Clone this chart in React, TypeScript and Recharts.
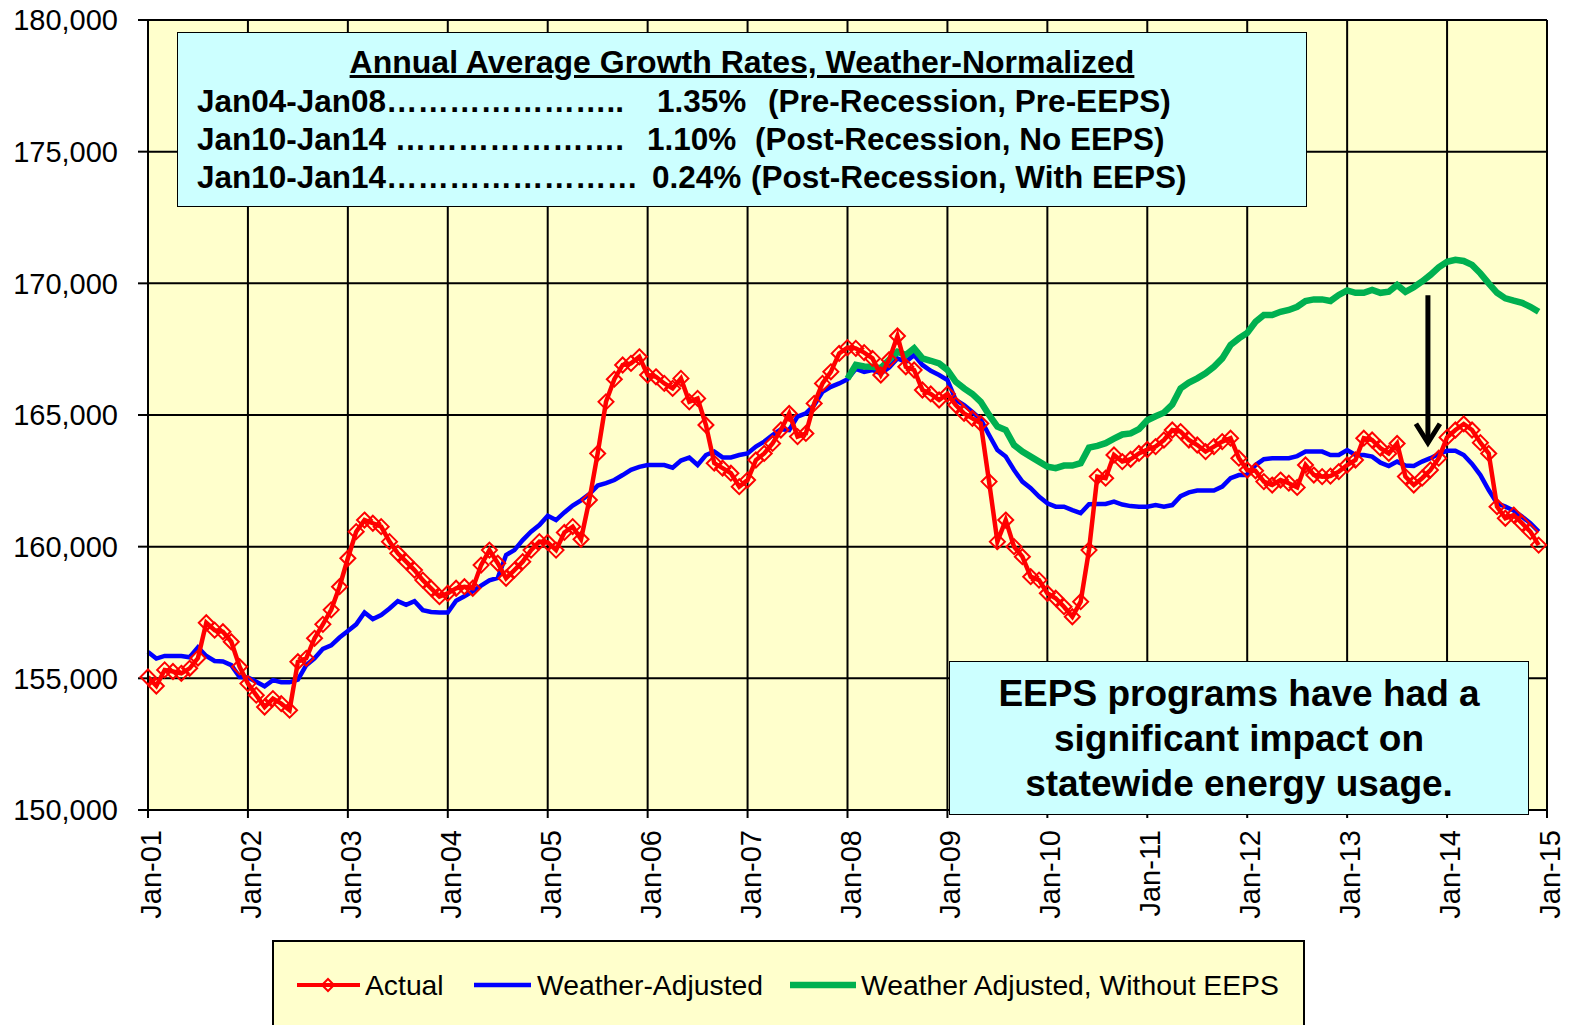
import React from 'react';
import { LineChart, Line, XAxis, YAxis, CartesianGrid, ReferenceLine } from 'recharts';

// monthly kWh (thousands) Jan-01 .. Dec-14
const X_TICK_LABELS = [
  'Jan-01', 'Jan-02', 'Jan-03', 'Jan-04', 'Jan-05', 'Jan-06', 'Jan-07', 'Jan-08',
  'Jan-09', 'Jan-10', 'Jan-11', 'Jan-12', 'Jan-13', 'Jan-14', 'Jan-15',
];
const Y_TICKS = [150000, 155000, 160000, 165000, 170000, 175000, 180000];

const ACTUAL = [
  155050, 154710, 155320, 155260, 155190, 155380, 155770, 157110, 156830, 156770, 156390, 155440,
  154800, 154360, 153910, 154230, 154040, 153790, 155630, 155760, 156520, 157050, 157600, 158480,
  159560, 160570, 161010, 160890, 160760, 160190, 159750, 159430, 159110, 158730, 158420, 158100,
  158230, 158420, 158480, 158420, 159300, 159870, 159370, 158800, 159110, 159430, 159870, 160190,
  160160, 159870, 160540, 160760, 160280, 161770, 163540, 165500, 166360, 166900, 166960, 167210,
  166520, 166450, 166200, 166010, 166390, 165500, 165630, 164620, 163170, 162980, 162790, 162280,
  162530, 163290, 163540, 163920, 164430, 165060, 164180, 164300, 165440, 166200, 166640, 167340,
  167560, 167530, 167370, 167150, 166520, 167100, 168000, 166830, 166710, 165950, 165800, 165570,
  165800, 165380, 165060, 164870, 164680, 162470, 160190, 161010, 160000, 159620, 158860, 158730,
  158230, 158040, 157720, 157340, 157910, 159870, 162660, 162600, 163480, 163230, 163320, 163540,
  163690, 163800, 164050, 164430, 164370, 164050, 163860, 163610, 163800, 163990, 164120, 163360,
  162910, 162880, 162470, 162340, 162530, 162410, 162250, 163100, 162720, 162660, 162680, 162850,
  163100, 163290, 164120, 164050, 163740, 163540, 163920, 162660, 162340, 162600, 162910, 163360,
  164150, 164430, 164660, 164430, 163950, 163540, 161520, 161080, 161200, 160890, 160570, 160060,
];

const WEATHER_ADJUSTED = [
  156000, 155750, 155850, 155850, 155850, 155800, 156180, 155850, 155660, 155640, 155500, 155050,
  155030, 154870, 154700, 154930, 154850, 154850, 154950, 155500, 155760, 156120, 156250, 156550,
  156800, 157050, 157500, 157250, 157400, 157650, 157930, 157790, 157930, 157590, 157520, 157500,
  157500, 157950, 158120, 158300, 158520, 158720, 158810, 159680, 159870, 160250, 160570, 160820,
  161170, 161010, 161300, 161560, 161760, 162000, 162320, 162410, 162530, 162720, 162920, 163030,
  163100, 163100, 163100, 163000, 163270, 163380, 163100, 163480, 163610, 163390, 163390, 163480,
  163540, 163800, 163990, 164240, 164460, 164430, 164940, 165060, 165380, 165880, 166070, 166200,
  166360, 166750, 166640, 166710, 166580, 166800, 167150, 167020, 167280, 166900, 166680, 166520,
  166330, 165570, 165380, 165120, 164830, 164240, 163670, 163420, 162910, 162470, 162220, 161900,
  161650, 161520, 161520, 161390, 161270, 161610, 161620, 161620, 161710, 161600, 161540, 161520,
  161520, 161580, 161520, 161580, 161920, 162060, 162130, 162130, 162130, 162280, 162600, 162720,
  162720, 163100, 163320, 163360, 163360, 163360, 163440, 163610, 163610, 163610, 163480, 163480,
  163670, 163480, 163480, 163420, 163190, 163060, 163230, 163080, 163060, 163230, 163360, 163520,
  163640, 163640, 163480, 163140, 162720, 162150, 161650, 161520, 161370, 161140, 160890, 160570,
];

// starts Jan-08
const NO_EEPS_START = 84;
const WITHOUT_EEPS = [
  166380, 166900, 166840, 166830, 166780, 167100, 167400, 167280, 167530, 167150, 167060, 166960,
  166710, 166260, 166010, 165800, 165500, 165000, 164560, 164430, 163860, 163610, 163420, 163230,
  163040, 162980, 163080, 163080, 163170, 163760, 163830, 163930, 164100, 164260, 164300, 164460,
  164800, 164950, 165090, 165400, 166010, 166230, 166390, 166580, 166830, 167150, 167660, 167910,
  168120, 168540, 168800, 168800, 168920, 168990, 169110, 169330, 169390, 169390, 169330, 169560,
  169730, 169640, 169640, 169750, 169640, 169680, 169940, 169680, 169850, 170070, 170320, 170610,
  170820, 170890, 170850, 170700, 170380, 170000, 169640, 169430, 169340, 169260, 169110, 168920,
];

const GROWTH_PERIODS = [
  'Jan04-Jan08' + '…'.repeat(7) + '..',
  'Jan10-Jan14 ' + '…'.repeat(7) + '.',
  'Jan10-Jan14' + '…'.repeat(8),
];
const GROWTH_RATES = ['1.35%', '1.10%', '0.24%'];
const GROWTH_NOTES = ['(Pre-Recession, Pre-EEPS)', '(Post-Recession, No EEPS)', '(Post-Recession, With EEPS)'];

// arrow annotation (month index, from, to)
const ARROW_MONTH = 153.7;
const ARROW_FROM = 169550;
const ARROW_TO = 163870;

const FONT = '"Liberation Sans", Arial, sans-serif';
const X_TICKS = X_TICK_LABELS.map((_, i) => i * 12);

const data = ACTUAL.map((v, i) => ({
  month: i,
  actual: v,
  adjusted: WEATHER_ADJUSTED[i],
  noEeps: i >= NO_EEPS_START ? WITHOUT_EEPS[i - NO_EEPS_START] : null,
}));

function Diamond(props: any) {
  const { cx, cy, index } = props;
  if (cx == null || cy == null) return <g key={index} />;
  const r = 7.5;
  return (
    <polygon
      key={index}
      points={`${cx},${cy - r} ${cx + r},${cy} ${cx},${cy + r} ${cx - r},${cy}`}
      fill="none"
      stroke="#FF0000"
      strokeWidth={2}
    />
  );
}

function XTick({ x, y, payload }: any) {
  return (
    <text
      x={x}
      y={y}
      dy="0.45em"
      transform={`rotate(-90, ${x}, ${y})`}
      textAnchor="end"
      fontSize={29}
      fill="#000"
      fontFamily={FONT}
    >
      {X_TICK_LABELS[Math.round(payload.value / 12)]}
    </text>
  );
}

function Arrow(props: any) {
  const { x1, y1, x2, y2 } = props;
  return (
    <g>
      <line x1={x1} y1={y1} x2={x2} y2={y2 - 2} stroke="#000" strokeWidth={5} />
      <polyline
        points={`${x2 - 12},${y2 - 21} ${x2},${y2 - 2} ${x2 + 12},${y2 - 21}`}
        fill="none"
        stroke="#000"
        strokeWidth={5}
      />
    </g>
  );
}

const abs = (left: number, top: number, extra: React.CSSProperties = {}): React.CSSProperties => ({
  position: 'absolute',
  left,
  top,
  whiteSpace: 'nowrap',
  ...extra,
});

export default function App() {
  const pctX = [657, 647, 652];
  const noteX = [768, 755, 751];
  const rowY = [101, 139, 177];
  const rowFont = { fontSize: 31.5, lineHeight: '36px', fontWeight: 700 };

  return (
    <div style={{ position: 'absolute', left: 0, top: 0, width: 1570, height: 1025, overflow: 'hidden', fontFamily: FONT, background: '#fff' }}>
      <LineChart width={1570} height={1025} data={data} margin={{ top: 20, right: 23, left: 0, bottom: 0 }}>
        <CartesianGrid stroke="#000" strokeWidth={2} fill="#FFFFCC" fillOpacity={1} />
        <XAxis
          dataKey="month"
          type="number"
          domain={[0, 168]}
          ticks={X_TICKS}
          interval={0}
          height={215}
          tick={<XTick />}
          tickSize={8}
          tickMargin={12}
          axisLine={{ stroke: '#000', strokeWidth: 2 }}
          tickLine={{ stroke: '#000', strokeWidth: 2 }}
        />
        <YAxis
          type="number"
          domain={[150000, 180000]}
          ticks={Y_TICKS}
          interval={0}
          width={148}
          tickSize={10}
          tickMargin={20}
          tick={{ fontSize: 29, fill: '#000', fontFamily: FONT }}
          tickFormatter={(v: number) => v.toLocaleString('en-US')}
          axisLine={{ stroke: '#000', strokeWidth: 2 }}
          tickLine={{ stroke: '#000', strokeWidth: 2 }}
        />
        <Line type="linear" dataKey="adjusted" stroke="#0000FF" strokeWidth={4.5} dot={false} isAnimationActive={false} />
        <Line type="linear" dataKey="noEeps" stroke="#00B050" strokeWidth={6.5} dot={false} isAnimationActive={false} />
        <Line type="linear" dataKey="actual" stroke="#FF0000" strokeWidth={4.5} dot={<Diamond />} isAnimationActive={false} />
        <ReferenceLine
          segment={[{ x: ARROW_MONTH, y: ARROW_FROM }, { x: ARROW_MONTH, y: ARROW_TO }]}
          shape={Arrow}
          ifOverflow="visible"
        />
      </LineChart>

      {/* growth-rate box */}
      <div style={{ position: 'absolute', left: 177, top: 32, width: 1130, height: 175, boxSizing: 'border-box', border: '1.5px solid #000', background: '#CCFFFF' }} />
      <div style={abs(177, 43, { width: 1130, textAlign: 'center', fontSize: 32, lineHeight: '38px', fontWeight: 700, textDecoration: 'underline' })}>
        Annual Average Growth Rates, Weather-Normalized
      </div>
      {GROWTH_PERIODS.map((p, i) => (
        <React.Fragment key={p + i}>
          <div style={abs(197, rowY[i] - 18, rowFont)}>{p}</div>
          <div style={abs(pctX[i], rowY[i] - 18, rowFont)}>{GROWTH_RATES[i]}</div>
          <div style={abs(noteX[i], rowY[i] - 18, rowFont)}>{GROWTH_NOTES[i]}</div>
        </React.Fragment>
      ))}

      {/* EEPS callout */}
      <div style={{ position: 'absolute', left: 949, top: 661, width: 580, height: 154, boxSizing: 'border-box', border: '1.5px solid #000', background: '#CCFFFF' }} />
      <div style={abs(949, 671, { width: 580, textAlign: 'center', fontSize: 37, lineHeight: '45px', fontWeight: 700 })}>
        EEPS programs have had a<br />significant impact on<br />statewide energy usage.
      </div>

      {/* legend */}
      <div style={{ position: 'absolute', left: 272, top: 940, width: 1033, height: 100, boxSizing: 'border-box', border: '2px solid #000', background: '#FFFFCC' }} />
      <svg style={{ position: 'absolute', left: 0, top: 940 }} width={1570} height={90}>
        <line x1={297} y1={45} x2={360} y2={45} stroke="#FF0000" strokeWidth={4} />
        <polygon points="328,39 334,45 328,51 322,45" fill="none" stroke="#FF0000" strokeWidth={2} />
        <line x1={474} y1={45} x2={531} y2={45} stroke="#0000FF" strokeWidth={4.5} />
        <line x1={790} y1={45} x2={856} y2={45} stroke="#00B050" strokeWidth={6.5} />
      </svg>
      <div style={abs(365, 968, { fontSize: 28.3, lineHeight: '34px' })}>Actual</div>
      <div style={abs(537, 968, { fontSize: 28.3, lineHeight: '34px' })}>Weather-Adjusted</div>
      <div style={abs(861, 968, { fontSize: 28.3, lineHeight: '34px' })}>Weather Adjusted, Without EEPS</div>
    </div>
  );
}
